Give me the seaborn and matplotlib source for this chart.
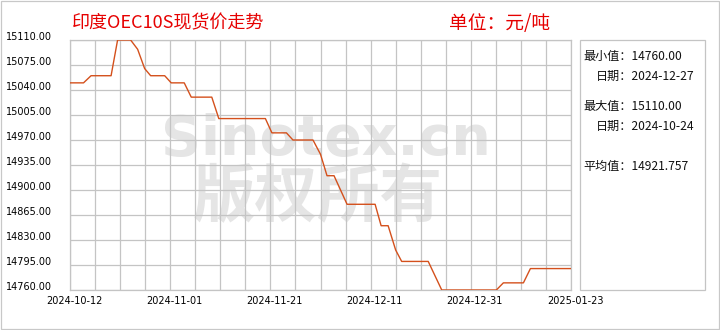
import matplotlib
matplotlib.use("Agg")
import matplotlib.pyplot as plt
from matplotlib.transforms import ScaledTranslation
from matplotlib.patches import Rectangle
import seaborn as sns
import pandas as pd

# ---- data ----
sample_pos = [0, 2.7, 4.2, 8.2, 9.5, 12.1, 13.5, 14.9, 16.1, 18.9, 20.2, 22.8, 24.2,
              28.3, 29.7, 39.0, 40.3, 43.2, 44.5, 48.5, 50.0, 51.3, 52.7, 55.3,
              60.9, 62.1, 63.5, 65.0, 66.2, 71.5, 74.2, 85.1, 86.5, 90.5, 91.9, 100]
price = [15050, 15050, 15060, 15060, 15110, 15110, 15097, 15070, 15060, 15060, 15050, 15050, 15030,
         15030, 15000, 15000, 14980, 14980, 14970, 14970, 14950, 14920, 14920, 14880,
         14880, 14850, 14850, 14816, 14800, 14800, 14760, 14760, 14770, 14770, 14790, 14790]
tick_pos = [0, 20, 40, 60, 80, 100]
tick_dates = ["2024-10-12", "2024-11-01", "2024-11-21", "2024-12-11", "2024-12-31", "2025-01-23"]
y_ticks = [14760, 14795, 14830, 14865, 14900, 14935, 14970, 15005, 15040, 15075, 15110]
title = "印度OEC10S现货价走势"
unit = "单位：元/吨"
stats = [("最小值：14760.00", 0), ("日期：2024-12-27", 1),
         ("最大值：15110.00", 0), ("日期：2024-10-24", 1),
         ("平均值：14921.757", 0)]

sns.set_style("white")
plt.rcParams['font.family'] = ['Noto Sans CJK SC', 'DejaVu Sans']

W, H = 720, 330
fig = plt.figure(figsize=(7.2, 3.3), dpi=100)
fig.patch.set_facecolor("white")
ax = fig.add_axes([70 / W, 1 - 290 / H, 501 / W, 250 / H])

df = pd.DataFrame({"pos": sample_pos, "price": price})
sns.lineplot(data=df, x="pos", y="price", ax=ax, color="#d4501c", linewidth=1.0, zorder=3)

ax.set_xlim(0, 100)
ax.set_ylim(14760, 15110)
ax.set_xlabel("")
ax.set_ylabel("")

grid_c = "#c4c4c4"
xt = list(range(0, 101, 5))
ax.set_xticks(xt)
ax.set_xticklabels([tick_dates[tick_pos.index(v)] if v in tick_pos else "" for v in xt],
                   fontsize=7, family="DejaVu Sans")
ax.set_yticks(y_ticks)
ax.set_yticklabels([f"{v:.2f}" for v in y_ticks], fontsize=7, family="DejaVu Sans")
ax.tick_params(axis="both", length=0, colors="black")
ax.tick_params(axis="y", pad=13)
ax.tick_params(axis="x", pad=4)
ax.set_axisbelow(True)
ax.grid(True, color=grid_c, linewidth=0.9)
for s in ax.spines.values():
    s.set_color(grid_c)
    s.set_linewidth(0.9)

for lab in ax.get_yticklabels():
    lab.set_transform(lab.get_transform() + ScaledTranslation(0, 0.04, fig.dpi_scale_trans))
for lab in ax.get_xticklabels():
    lab.set_transform(lab.get_transform() + ScaledTranslation(0.04, 0, fig.dpi_scale_trans))

# watermark
ax.text(326 / W, 1 - 155 / H, "Sinotex.cn", transform=fig.transFigure, ha="center", va="baseline",
        fontsize=40, fontweight="bold", family="DejaVu Sans", color="#e5e5e5", zorder=0.2, clip_on=False)
ax.text(318 / W, 1 - 198 / H, "版权所有", transform=fig.transFigure, ha="center", va="center",
        fontsize=45, fontweight="bold", color="#e5e5e5", zorder=0.2, clip_on=False)

# titles
fig.text(72 / W, 1 - 23 / H, title, ha="left", va="center", fontsize=13, color="#e60000")
fig.text(449 / W, 1 - 23 / H, unit, ha="left", va="center", fontsize=13.5, color="#e60000")

# info box
fig.patches.append(Rectangle((580 / W, 1 - 290 / H), 125 / W, 250 / H, transform=fig.transFigure,
                             fill=False, edgecolor=grid_c, linewidth=0.9))
ys = [56, 76, 106, 126, 166]
for (txt, indent), yy in zip(stats, ys):
    fig.text((583 + 13 * indent) / W, 1 - yy / H, txt, ha="left", va="center", fontsize=8.7, color="#111111")

# outer border
fig.patches.append(Rectangle((1 / W, 1 / H), 718 / W, 328 / H, transform=fig.transFigure,
                             fill=False, edgecolor="#c8c8c8", linewidth=0.9))

fig.savefig("out.png", dpi=100)
